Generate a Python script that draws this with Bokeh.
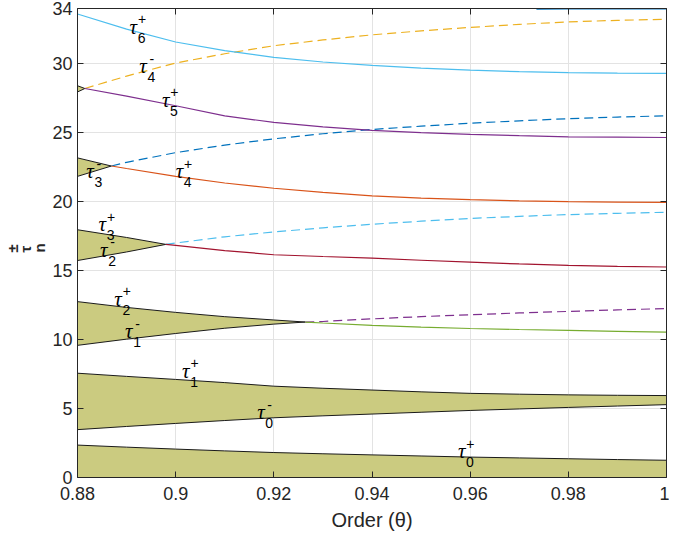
import numpy as np
from bokeh.plotting import figure
from bokeh.models import Range1d, LinearAxis, FixedTicker, Title
from bokeh.core.properties import value
from bokeh.embed import file_html
from bokeh.resources import INLINE

# ---------------- data ----------------
theta_g = [0.88, 0.89, 0.90, 0.91, 0.92, 0.93, 0.94, 0.95, 0.96, 0.97, 0.98, 0.99, 1.00]

tau0_plus = [2.35, 2.20, 2.06, 1.93, 1.81, 1.72, 1.64, 1.56, 1.48, 1.42, 1.36, 1.30, 1.25]
tau0_minus = [3.47, 3.70, 3.92, 4.13, 4.33, 4.47, 4.60, 4.73, 4.86, 4.97, 5.08, 5.18, 5.28]
tau1_plus = [7.56, 7.33, 7.11, 6.88, 6.62, 6.47, 6.34, 6.21, 6.10, 6.04, 5.99, 5.96, 5.94]

theta_b2 = [0.88, 0.89, 0.90, 0.91, 0.92, 0.9264, 0.93, 0.94, 0.95, 0.96, 0.97, 0.98, 0.99, 1.00]
tau1_minus = [9.58, 10.03, 10.44, 10.82, 11.12, 11.27, 11.31, 11.50, 11.66, 11.80, 11.93, 12.04, 12.15, 12.25]
tau2_plus = [12.75, 12.33, 11.97, 11.66, 11.42, 11.27, 11.20, 11.03, 10.90, 10.80, 10.73, 10.67, 10.60, 10.54]
cross_b2 = 0.9264

theta_b3 = [0.88, 0.89, 0.898, 0.90, 0.91, 0.92, 0.93, 0.94, 0.95, 0.96, 0.97, 0.98, 0.99, 1.00]
tau2_minus = [15.73, 16.35, 16.90, 17.00, 17.45, 17.80, 18.10, 18.36, 18.58, 18.78, 18.93, 19.06, 19.15, 19.23]
tau3_plus = [17.96, 17.40, 16.90, 16.83, 16.45, 16.15, 16.02, 15.90, 15.75, 15.61, 15.48, 15.38, 15.31, 15.26]
cross_b3 = 0.898

theta_b4 = [0.88, 0.8869, 0.89, 0.90, 0.91, 0.92, 0.93, 0.94, 0.95, 0.96, 0.97, 0.98, 0.99, 1.00]
tau3_minus = [21.83, 22.58, 22.85, 23.55, 24.10, 24.55, 24.92, 25.23, 25.47, 25.68, 25.86, 26.01, 26.13, 26.22]
tau4_plus = [23.17, 22.58, 22.40, 21.83, 21.35, 20.97, 20.67, 20.42, 20.26, 20.14, 20.06, 20.00, 19.97, 19.95]
cross_b4 = 0.8869

theta_b5 = [0.88, 0.8815, 0.89, 0.90, 0.91, 0.92, 0.93, 0.94, 0.95, 0.96, 0.97, 0.98, 0.99, 1.00]
tau4_minus = [27.95, 28.20, 29.10, 30.05, 30.72, 31.30, 31.72, 32.09, 32.38, 32.63, 32.85, 33.03, 33.14, 33.22]
tau5_plus = [28.40, 28.20, 27.65, 26.95, 26.22, 25.74, 25.42, 25.16, 25.00, 24.88, 24.78, 24.70, 24.67, 24.65]
cross_b5 = 0.8815

tau6_plus = [33.60, 32.50, 31.57, 30.95, 30.45, 30.12, 29.88, 29.68, 29.53, 29.42, 29.35, 29.31, 29.30]

theta_t5m = [0.9735, 0.98, 0.99, 1.00]
tau5_minus = [33.98, 34.00, 34.00, 34.00]

# curve labels: tau, sign (superscript), index (subscript)
lab_theta = [0.8906, 0.8926, 0.8972, 0.8818, 0.9000, 0.8843, 0.8846, 0.8875, 0.8897, 0.9013, 0.9166, 0.9575]
lab_y = [32.16, 29.30, 26.88, 21.71, 21.71, 17.84, 16.01, 12.44, 10.09, 7.23, 4.23, 1.41]
lab_sign = ["+", "-", "+", "-", "+", "+", "-", "+", "-", "+", "-", "+"]
lab_n = ["6", "4", "5", "3", "4", "3", "2", "2", "1", "1", "0", "0"]

x_ticks = [0.88, 0.90, 0.92, 0.94, 0.96, 0.98, 1.00]
x_tick_labels = ["0.88", "0.9", "0.92", "0.94", "0.96", "0.98", "1"]
y_ticks = [0, 5, 10, 15, 20, 25, 30, 34]

# ---------------- styling ----------------
FILL = "#CBCB80"
EDGE = "#1a1a1a"
AX = "#262626"
FONT = "Liberation Sans"
BLUE, ORANGE, YELLOW, PURPLE = "#0072BD", "#D95319", "#EDB120", "#7E2F8E"
GREEN, LBLUE, RED = "#77AC30", "#4DBEEE", "#A2142F"
DASH = "9 5"
LW = 1.2

p = figure(width=669, height=533, output_backend="svg", toolbar_location=None,
           x_range=Range1d(0.88, 1.0), y_range=Range1d(0, 34),
           min_border_left=70, min_border_right=3, min_border_top=8, min_border_bottom=53)
p.outline_line_color = None
p.background_fill_color = "white"
p.border_fill_color = "white"

def style_axis(ax, labels=True):
    ax.axis_line_color = AX
    ax.axis_line_width = 1
    ax.major_tick_line_color = AX
    ax.major_tick_in = 6
    ax.major_tick_out = 0
    ax.minor_tick_line_color = None
    ax.major_label_text_color = AX
    ax.major_label_text_font = FONT
    if labels:
        ax.major_label_text_font_size = "18px"
    else:
        ax.major_label_text_font_size = "0px"
        ax.major_label_standoff = 0

p.xaxis.ticker = FixedTicker(ticks=x_ticks)
p.xaxis.major_label_overrides = {t: s for t, s in zip(x_ticks, x_tick_labels)}
p.yaxis.ticker = FixedTicker(ticks=y_ticks)
style_axis(p.xaxis[0])
style_axis(p.yaxis[0])
p.xaxis.major_label_standoff = 9
p.yaxis.major_label_standoff = 5
p.xaxis.axis_label = "Order (θ)"
p.xaxis.axis_label_text_font = FONT
p.xaxis.axis_label_text_font_style = "normal"
p.xaxis.axis_label_text_font_size = "20px"
p.xaxis.axis_label_text_color = AX
p.xaxis.axis_label_standoff = 6

top = LinearAxis(ticker=FixedTicker(ticks=x_ticks))
style_axis(top, labels=False)
p.add_layout(top, "above")
right = LinearAxis(ticker=FixedTicker(ticks=y_ticks))
style_axis(right, labels=False)
p.add_layout(right, "right")

p.xgrid.ticker = FixedTicker(ticks=x_ticks)
p.ygrid.ticker = FixedTicker(ticks=y_ticks)
p.grid.grid_line_color = "#e3e3e3"
p.grid.grid_line_width = 1

# ---------------- y-axis label: tau^±_n as one compact vertical title ----------------
p.add_layout(Title(text="±\nτ   \nn", align="center", offset=-2, standoff=3,
                   text_font=FONT, text_font_size="15px", text_line_height=0.8,
                   text_color=AX), "left")

# ---------------- bands ----------------
g = np.array(theta_g)
p.varea(x=g, y1=np.zeros(len(g)), y2=np.array(tau0_plus), fill_color=FILL)
p.line(g, tau0_plus, line_color=EDGE, line_width=1)
p.varea(x=g, y1=np.array(tau0_minus), y2=np.array(tau1_plus), fill_color=FILL)
p.line(g, tau0_minus, line_color=EDGE, line_width=1)
p.line(g, tau1_plus, line_color=EDGE, line_width=1)

bands = [
    (theta_b2, tau1_minus, tau2_plus, cross_b2, (PURPLE, DASH), (GREEN, "solid")),
    (theta_b3, tau2_minus, tau3_plus, cross_b3, (LBLUE, DASH), (RED, "solid")),
    (theta_b4, tau3_minus, tau4_plus, cross_b4, (BLUE, DASH), (ORANGE, "solid")),
    (theta_b5, tau4_minus, tau5_plus, cross_b5, (YELLOW, DASH), (PURPLE, "solid")),
]
for th, lo, up, c, lo_style, up_style in bands:
    th = np.array(th); lo = np.array(lo); up = np.array(up)
    pre = th <= c + 1e-9
    post = th >= c - 1e-9
    p.varea(x=th[pre], y1=lo[pre], y2=up[pre], fill_color=FILL)
    p.line(th[pre], lo[pre], line_color=EDGE, line_width=1)
    p.line(th[pre], up[pre], line_color=EDGE, line_width=1)
    p.line(th[post], lo[post], line_color=lo_style[0], line_dash=lo_style[1], line_width=LW)
    p.line(th[post], up[post], line_color=up_style[0], line_dash=up_style[1], line_width=LW)

p.line(g, tau6_plus, line_color=LBLUE, line_width=LW)
p.line(theta_t5m, tau5_minus, line_color=BLUE, line_width=2)

# ---------------- curve labels ----------------
p.text(x=lab_theta, y=lab_y, text=["τ"] * len(lab_theta), y_offset=-7,
       text_font=value("Liberation Serif"), text_font_style="italic",
       text_font_size="21px", text_color="black",
       text_align="left", text_baseline="alphabetic")
p.text(x=lab_theta, y=lab_y, text=lab_sign, x_offset=12.5, y_offset=-14.5,
       text_font=value(FONT), text_font_size="14px", text_color="black",
       text_align="center", text_baseline="middle")
p.text(x=lab_theta, y=lab_y, text=lab_n, x_offset=12, y_offset=4,
       text_font=value(FONT), text_font_size="14px", text_color="black",
       text_align="center", text_baseline="middle")

open("out.html", "w").write(file_html(p, INLINE))
